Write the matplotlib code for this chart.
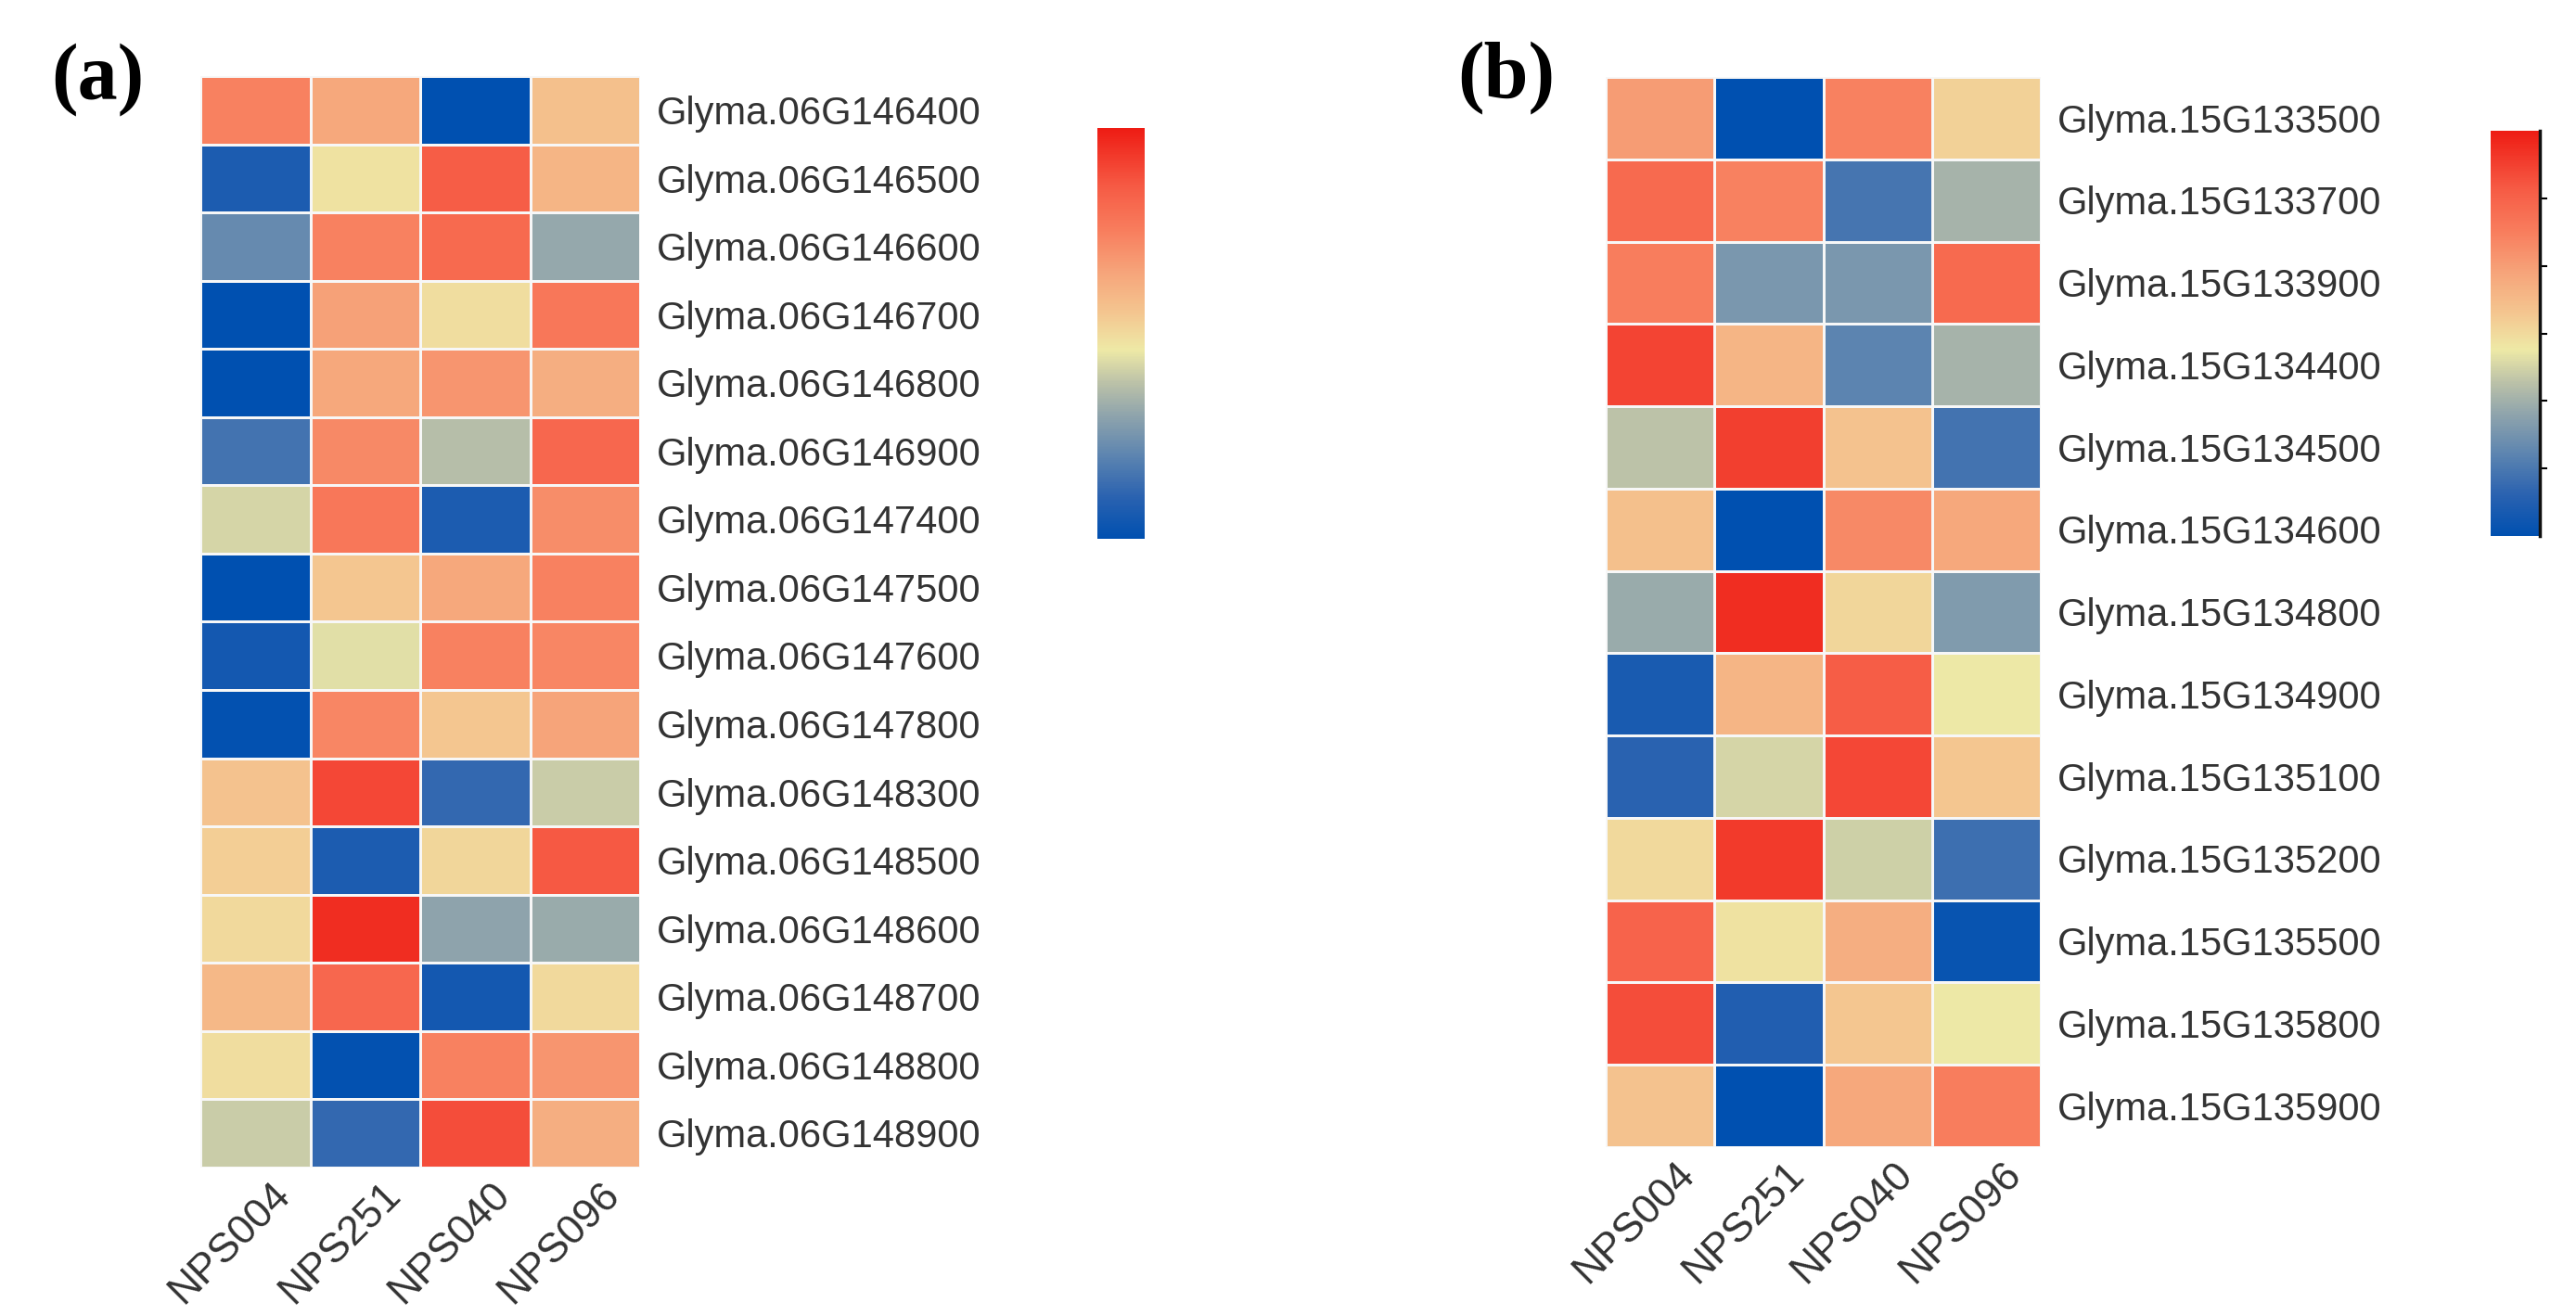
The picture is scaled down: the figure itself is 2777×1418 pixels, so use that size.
"""Two heatmaps of relative gene expression (z-scores) in four soybean lines."""

import numpy as np
import matplotlib
matplotlib.use("Agg")
import matplotlib.pyplot as plt
from matplotlib.colors import LinearSegmentedColormap, Normalize
from matplotlib.colorbar import ColorbarBase

# Data (row-scaled expression)
samples = ["NPS004", "NPS251", "NPS040", "NPS096"]

genes_a = ["Glyma.06G146400", "Glyma.06G146500", "Glyma.06G146600", "Glyma.06G146700",
           "Glyma.06G146800", "Glyma.06G146900", "Glyma.06G147400", "Glyma.06G147500",
           "Glyma.06G147600", "Glyma.06G147800", "Glyma.06G148300", "Glyma.06G148500",
           "Glyma.06G148600", "Glyma.06G148700", "Glyma.06G148800", "Glyma.06G148900"]
expr_a = [
    [0.72, 0.42, -1.50, 0.21],
    [-1.29, -0.06, 1.05, 0.30],
    [-0.84, 0.72, 0.93, -0.57],
    [-1.50, 0.48, -0.03, 0.81],
    [-1.50, 0.42, 0.57, 0.36],
    [-1.05, 0.66, -0.39, 0.96],
    [-0.24, 0.81, -1.29, 0.63],
    [-1.50, 0.15, 0.42, 0.72],
    [-1.35, -0.18, 0.72, 0.69],
    [-1.47, 0.69, 0.15, 0.45],
    [0.18, 1.20, -1.14, -0.30],
    [0.09, -1.29, 0.03, 1.08],
    [0.00, 1.38, -0.60, -0.54],
    [0.27, 0.96, -1.35, 0.00],
    [-0.03, -1.47, 0.72, 0.57],
    [-0.30, -1.14, 1.17, 0.36],
]

genes_b = ["Glyma.15G133500", "Glyma.15G133700", "Glyma.15G133900", "Glyma.15G134400",
           "Glyma.15G134500", "Glyma.15G134600", "Glyma.15G134800", "Glyma.15G134900",
           "Glyma.15G135100", "Glyma.15G135200", "Glyma.15G135500", "Glyma.15G135800",
           "Glyma.15G135900"]
expr_b = [
    [0.51, -1.50, 0.72, 0.06],
    [0.93, 0.72, -1.02, -0.48],
    [0.75, -0.72, -0.72, 0.93],
    [1.23, 0.30, -0.90, -0.48],
    [-0.36, 1.26, 0.18, -1.05],
    [0.21, -1.50, 0.66, 0.42],
    [-0.54, 1.38, 0.03, -0.69],
    [-1.32, 0.30, 1.05, -0.12],
    [-1.20, -0.24, 1.20, 0.15],
    [0.00, 1.29, -0.27, -1.08],
    [0.99, -0.06, 0.36, -1.44],
    [1.17, -1.26, 0.15, -0.12],
    [0.18, -1.50, 0.42, 0.75],
]

cbar_ticks = [-1.0, -0.5, 0.0, 0.5, 1.0]

# colour ramp: blue -> grey -> pale yellow -> salmon -> red
cmap = LinearSegmentedColormap.from_list("expr", [
    (0.00, "#0050B0"), (0.10, "#2A62B0"), (0.20, "#5C84B0"), (0.30, "#8FA4AC"),
    (0.38, "#BCC2A8"), (0.46, "#EEE9A6"), (0.55, "#F4C690"), (0.65, "#F6A47A"),
    (0.75, "#F87E5E"), (0.86, "#F65A44"), (1.00, "#EE1C14")])
norm = Normalize(vmin=-1.5, vmax=1.5)

W, H = 2777, 1418
fig = plt.figure(figsize=(W / 100, H / 100), dpi=100)
fig.patch.set_facecolor("white")

TXT = "#333333"


def px_axes(x0, y0, x1, y1):
    # axes from pixel box (top-left origin)
    return fig.add_axes([x0 / W, 1 - y1 / H, (x1 - x0) / W, (y1 - y0) / H])


def draw_heatmap(box, genes, expr):
    ax = px_axes(*box)
    data = np.array(expr)
    ax.pcolormesh(data, cmap=cmap, norm=norm, edgecolors="#F7F7F7", linewidth=1.8)
    ax.set_xlim(0, len(samples))
    ax.set_ylim(len(genes), 0)
    ax.set_axis_off()
    n = len(genes)
    for i, g in enumerate(genes):
        ax.annotate(g, xy=(1, 1 - (i + 0.5) / n), xycoords="axes fraction",
                    xytext=(13, -3), textcoords="offset points",
                    ha="left", va="center", fontsize=30, color=TXT,
                    family="Liberation Sans")
    for j, s in enumerate(samples):
        ax.annotate(s, xy=((j + 0.5) / len(samples), 0), xycoords="axes fraction",
                    xytext=(12, -6), textcoords="offset points",
                    ha="right", va="top", rotation=45, rotation_mode="anchor",
                    fontsize=32, color=TXT, family="Liberation Sans")
    return ax


draw_heatmap((216, 82, 690, 1259), genes_a, expr_a)
draw_heatmap((1731, 83, 2200, 1237), genes_b, expr_b)

# colour keys
cax_a = px_axes(1183, 138, 1234, 581)
cb_a = ColorbarBase(cax_a, cmap=cmap, norm=norm, orientation="vertical")
cb_a.outline.set_visible(False)
cb_a.set_ticks([])

cax_b = px_axes(2685, 141, 2738, 578)
cb_b = ColorbarBase(cax_b, cmap=cmap, norm=norm, orientation="vertical")
cb_b.outline.set_visible(False)
cb_b.set_ticks(cbar_ticks)
cb_b.ax.tick_params(direction="out", length=6, width=1.5, color="black", labelright=False)
cax_b.spines["right"].set_visible(True)
cax_b.spines["right"].set_color("#111111")
cax_b.spines["right"].set_linewidth(2.5)

# panel letters
fig.text(105 / W, 1 - 86 / H, "(a)", ha="center", va="center", fontsize=62,
         fontweight="bold", family="Liberation Serif")
fig.text(1624 / W, 1 - 84 / H, "(b)", ha="center", va="center", fontsize=62,
         fontweight="bold", family="Liberation Serif")

fig.savefig("out.png", dpi=100, facecolor="white")
print("[OK] Saved out.png")
